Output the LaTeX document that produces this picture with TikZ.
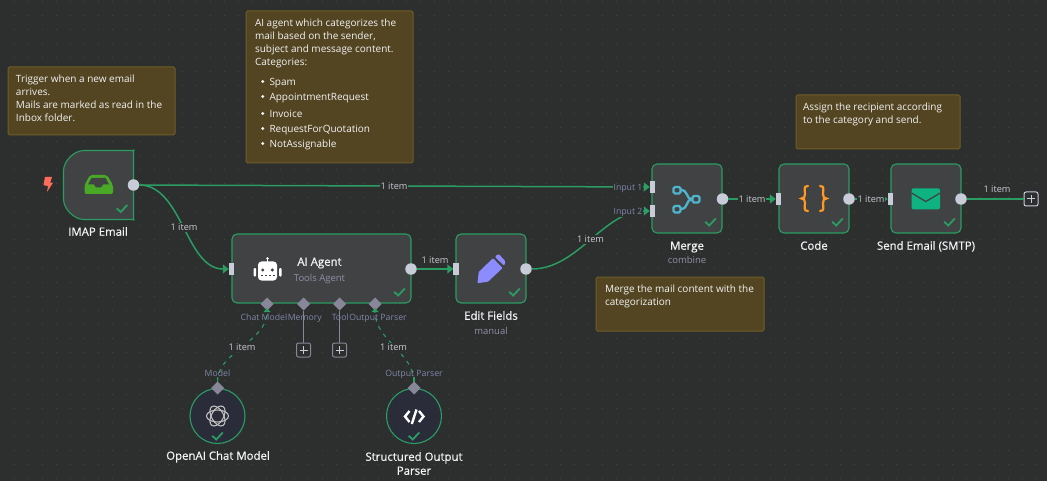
\documentclass[tikz,border=0pt]{standalone}
\usepackage{fontspec}
\setmainfont{Open Sans}
\newfontfamily\titlefont[FakeBold=0.7]{Open Sans}
\usetikzlibrary{arrows.meta,shapes.geometric,calc}
\definecolor{bgc}{HTML}{2D2E2E}
\definecolor{gridc}{HTML}{434445}
\definecolor{boxc}{HTML}{414244}
\definecolor{circc}{HTML}{2A2C3A}
\definecolor{grn}{HTML}{2A9D62}
\definecolor{portc}{HTML}{C8CBD8}
\definecolor{dia}{HTML}{878799}
\definecolor{notef}{HTML}{534521}
\definecolor{noted}{HTML}{6F5F26}
\definecolor{txt}{HTML}{F2F3F5}
\definecolor{lbl}{HTML}{C9CBD2}
\definecolor{sub}{HTML}{8F90A6}
\definecolor{plbl}{HTML}{7F87A8}
\definecolor{boltc}{HTML}{FF6D5A}
\definecolor{inboxc}{HTML}{49A825}
\definecolor{mergec}{HTML}{4EB6CC}
\definecolor{penc}{HTML}{8C8CFF}
\definecolor{bracec}{HTML}{FF9922}
\definecolor{envc}{HTML}{0FB381}
\tikzset{
 x=1pt,y=-1pt,
 every node/.style={inner sep=0pt,outer sep=0pt,font=\fontsize{10.5}{14}\selectfont},
 nodebox/.style={draw=grn,fill=boxc,line width=1.1pt,rounded corners=5pt},
 notebox/.style={draw=noted,fill=notef,line width=1pt,rounded corners=1.5pt},
 notetext/.style={text=txt,anchor=north west,align=left,font=\fontsize{10}{13.2}\selectfont},
 listtext/.style={text=txt,anchor=west,text height=7.5pt,text depth=2.5pt,font=\fontsize{10}{13}\selectfont},
 title/.style={text=txt,text height=8pt,text depth=2.5pt,font=\fontsize{11.4}{14}\titlefont},
 subt/.style={text=sub,text height=7pt,text depth=2.5pt,font=\fontsize{9.5}{12}\selectfont},
 itemlbl/.style={text=lbl,fill=bgc,inner sep=0.5pt,text height=7pt,text depth=1pt,font=\fontsize{9.2}{12}\selectfont},
 itemfree/.style={text=lbl,text height=7pt,text depth=1pt,font=\fontsize{9.2}{12}\selectfont},
 portlbl/.style={text=plbl,text height=7pt,text depth=2pt,font=\fontsize{8.7}{12}\selectfont},
 inport/.style={fill=portc,minimum width=5.5pt,minimum height=12pt,shape=rectangle},
 outport/.style={fill=portc,circle,minimum size=11.5pt},
 diaport/.style={fill=dia,diamond,minimum width=13pt,minimum height=13pt},
 plusbox/.style={draw=#1,fill=bgc,line width=1pt,rounded corners=2pt,minimum size=14pt,shape=rectangle},
 wire/.style={draw=grn,line width=1.5pt},
 wiretip/.style={wire,-{Triangle[length=6pt,width=9pt,fill=grn]}},
 dwire/.style={draw=grn,line width=1.1pt,dash pattern=on 4pt off 5pt},
 chk/.style={draw=grn,line width=1.8pt},
}
\newcommand{\okmark}[2]{\draw[chk] (#1-16.8,#2-11.2)--(#1-12.8,#2-7.5)--(#1-6.2,#2-14.5);}
\begin{document}
\begin{tikzpicture}
\useasboundingbox (0,0) rectangle (1047,481);
\fill[bgc] (0,0) rectangle (1047,481);
% dotted canvas
\foreach \i in {1,...,74}{\foreach \j in {0,...,34}{
 \fill[gridc] ({14*\i-0.5},{2+14*\j-0.5}) rectangle ++(1,1);}}
% sticky notes
\draw[notebox] (8,67) rectangle (175,135);
\node[notetext] (n1) at (16,74.5) {Trigger when a new email\\arrives.\\Mails are marked as read in the\\Inbox folder.};
\draw[notebox] (246,11) rectangle (413,163);
\node[notetext] (n2a) at (255,18.5) {AI agent which categorizes the\\mail based on the sender,\\subject and message content.\\Categories:};
\foreach \yy/\tt in {81.5/Spam,96.5/AppointmentRequest,113.5/Invoice,128.5/RequestForQuotation,143.5/NotAssignable}{
 \fill[txt] (262.7,\yy) circle (1.6);
 \node[listtext] at (269.5,\yy+1.2) {\tt};}
\draw[notebox] (796,95) rectangle (960,149);
\node[notetext] (n3) at (803,103) {Assign the recipient according\\to the category and send.};
\draw[notebox] (596,277) rectangle (764,331);
\node[notetext] (n4) at (605,285) {Merge the mail content with the\\categorization};
% boxes
\draw[nodebox] (63.5,176) .. controls (63.5,161) and (74,150.5) .. (89,150.5) -- (128.5,150.5) .. controls (131.5,150.5) and (133.5,152.5) .. (133.5,155.5) -- (133.5,214.5) .. controls (133.5,217.5) and (131.5,219.5) .. (128.5,219.5) -- (89,219.5) .. controls (74,219.5) and (63.5,209) .. (63.5,194) -- cycle;
\node[nodebox,minimum width=179pt,minimum height=69pt] (agent) at (321.5,268.5) {};
\node[nodebox,minimum width=70pt,minimum height=69pt] (edit) at (491,268.5) {};
\node[nodebox,minimum width=70pt,minimum height=69pt] (merge) at (687,198.5) {};
\node[nodebox,minimum width=70pt,minimum height=69pt] (code) at (814,198.5) {};
\node[nodebox,minimum width=70pt,minimum height=69pt] (send) at (926,198.5) {};
\node[circle,draw=grn,fill=circc,line width=1.1pt,minimum size=55pt] (oai) at (217.5,416) {};
\node[circle,draw=grn,fill=circc,line width=1.1pt,minimum size=55pt] (sop) at (414,416) {};
% ports
\node[outport] (imapout) at (133.5,185) {};
\node[inport] (agentin) at (231.5,269) {};
\node[outport] (agentout) at (411,269) {};
\node[inport] (editin) at (456,269) {};
\node[outport] (editout) at (526,269) {};
\node[inport] (mergein1) at (652.5,187) {};
\node[inport] (mergein2) at (652.5,211) {};
\node[outport] (mergeout) at (722.5,199) {};
\node[inport] (codein) at (778.5,199) {};
\node[outport] (codeout) at (849,199) {};
\node[inport] (sendin) at (890.5,199) {};
\node[outport] (sendout) at (961,199) {};
\node[plusbox=portc] (endplus) at (1031,199) {};
\node[plusbox=dia] (memplus) at (303.5,350) {};
\node[plusbox=dia] (toolplus) at (339.5,350) {};
\node[diaport] (chatport) at (267,304) {};
\node[diaport] (memport) at (303.5,304) {};
\node[diaport] (toolport) at (339.5,304) {};
\node[diaport] (parsport) at (375,304) {};
\node[diaport] (modelout) at (217.5,388) {};
\node[diaport] (parserout) at (414,388) {};
\coordinate (chattip) at (267,312);
\coordinate (parstip) at (375,312);
% connectors
\draw[wiretip] (imapout) -- (mergein1.west);
\draw[wiretip] (imapout) to[out=0,in=180,looseness=0.9] (agentin.west);
\draw[wiretip] (agentout) -- (editin.west);
\draw[wiretip] (editout) to[out=0,in=180,looseness=0.9] (mergein2.west);
\draw[wiretip] (mergeout) -- (codein.west);
\draw[wiretip] (codeout) -- (sendin.west);
\draw[wire] (sendout) -- (endplus.west);
\draw[draw=dia,line width=1.1pt] (memport) -- (memplus.north);
\draw[draw=dia,line width=1.1pt] (toolport) -- (toolplus.north);
\draw[dwire] (modelout.north) to[out=90,in=-90,looseness=0.9] (chattip);
\draw[dwire] (parserout.north) to[out=90,in=-90,looseness=0.9] (parstip);
\fill[grn] (chattip) ++(-3.5,0) -- ++(3.5,-4) -- ++(3.5,4) -- cycle;
\fill[grn] (parstip) ++(-3.5,0) -- ++(3.5,-4) -- ++(3.5,4) -- cycle;
\draw[grn,line width=1.1pt] (modelout.north) -- ++(0,-5);
\draw[grn,line width=1.1pt] (parserout.north) -- ++(0,-5);
\foreach \c in {endplus,memplus,toolplus}{
 \draw[portc,line width=1pt] ($(\c)+(-4,0)$) -- ($(\c)+(4,0)$) ($(\c)+(0,-4)$) -- ($(\c)+(0,4)$);}
% connector labels
\node[itemlbl] (l1) at (394,187) {1 item};
\node[itemlbl] (l2) at (184,227.5) {1 item};
\node[itemfree] (l3) at (435,260) {1 item};
\node[itemlbl] (l4) at (590.5,240) {1 item};
\node[itemlbl] (l5) at (752,199.5) {1 item};
\node[itemlbl] (l6) at (871,199.5) {1 item};
\node[itemfree] (l7) at (997,190) {1 item};
\node[itemlbl] (l8) at (242,347.5) {1 item};
\node[itemlbl] (l9) at (393.5,347.5) {1 item};
\node[portlbl,fill=bgc,inner sep=0.3pt] (p1) at (628,188.5) {Input 1};
\node[portlbl,fill=bgc,inner sep=0.3pt] (p2) at (628,212.5) {Input 2};
\node[portlbl,anchor=east] (p3) at (287.2,318) {Chat Model};
\node[portlbl,anchor=west] (p4) at (287.8,318) {Memory};
\node[portlbl,anchor=east] (p5) at (348.7,318) {Tool};
\node[portlbl,anchor=west] (p6) at (349.3,318) {Output Parser};
\node[portlbl] (p7) at (217.5,374) {Model};
\node[portlbl] (p8) at (414,374) {Output Parser};
% titles
\node[title] (t1) at (98,233) {IMAP Email};
\node[title] (t2) at (319.5,263) {AI Agent};
\node[subt] (t3) at (319.5,279) {Tools Agent};
\node[title] (t4) at (491,317) {Edit Fields};
\node[subt] (t5) at (491,332) {manual};
\node[title] (t6) at (687,247) {Merge};
\node[subt] (t7) at (687,261.5) {combine};
\node[title] (t8) at (814,247) {Code};
\node[title] (t9) at (926,247) {Send Email (SMTP)};
\node[title] (t10) at (218,457) {OpenAI Chat Model};
\node[title,text height=,text depth=,align=center] (t11) at (414,463.5) {Structured Output\\Parser};
% check marks
\okmark{133.5}{219.5}
\okmark{411}{303}
\okmark{526}{303}
\okmark{722}{233}
\okmark{849}{233}
\okmark{961}{233}
\okmark{229}{447}
\okmark{425.5}{447}
% bolt
\fill[boltc] (45,177)--(52,177)--(50.2,182.5)--(53,182.8)--(47,192)--(48,186)--(43.5,185.2)--cycle;
% inbox icon
\fill[inboxc,rounded corners=2pt] (90,175)--(107,175)--(113,185)--(113,194)--(84.5,194)--(84.5,185)--cycle;
\fill[boxc] (91.5,178)--(105.5,178)--(109,184.5)--(103,184.5)--(101,187.5)--(96,187.5)--(94,184.5)--(88,184.5)--cycle;
% robot icon
\fill[white,rounded corners=3.5pt] (258,261.5) rectangle (277,280.5);
\fill[white,rounded corners=1pt] (253.5,268) rectangle (256,276.5);
\fill[white,rounded corners=1pt] (279,268) rectangle (281.5,276.5);
\fill[white] (267.5,258.5) circle (1.3);
\draw[white,line width=1pt] (267.5,259) -- (267.5,262);
\fill[boxc] (262.7,270) circle (1.7) (272.3,270) circle (1.7);
\foreach \xx in {261.5,265.5,269.5,273.5}{\fill[boxc] (\xx-0.2,275) rectangle ++(2,1.1);}
% pencil icon
\fill[penc,rounded corners=0.8pt] (477.5,283.2)--(478.7,272)--(493,258.2)--(502.6,268)--(488,281.7)--cycle;
\fill[penc,rounded corners=1.2pt] (494.8,256.8)--(498.5,253.8)--(505.6,261.5)--(504.2,265.8)--cycle;
% merge icon
\begin{scope}[draw=mergec,line width=2.3pt]
\draw[rounded corners=1.5pt] (673.5,187) rectangle (680.5,193.5);
\draw[rounded corners=1.5pt] (673.5,206) rectangle (680.5,212.5);
\draw[rounded corners=1.5pt] (692.5,196) rectangle (699.5,202.5);
\draw (680.5,190) .. controls (689,190) and (685,199) .. (692.5,199.2);
\draw (680.5,209) .. controls (689,209) and (685,199.5) .. (692.5,199.2);
\end{scope}
% braces icon
\begin{scope}[draw=bracec,line width=2.2pt,line cap=round]
\draw (808,186) .. controls (803,186) and (805,190) .. (805,194) .. controls (805,197) and (804,198.5) .. (801.5,198.5) .. controls (804,198.5) and (805,200) .. (805,203) .. controls (805,207) and (803,211) .. (808,211);
\draw (820,186) .. controls (825,186) and (823,190) .. (823,194) .. controls (823,197) and (824,198.5) .. (826.5,198.5) .. controls (824,198.5) and (823,200) .. (823,203) .. controls (823,207) and (825,211) .. (820,211);
\end{scope}
% envelope icon
\fill[envc,rounded corners=2pt] (911.7,188.3) rectangle (940,209.5);
\draw[boxc,line width=1.3pt] (911.5,193) -- (925.8,201.5) -- (940.2,193);
% openai logo
\foreach \a in {0,60,120}{
 \draw[lightgray,line width=1.1pt,rotate around={\a:(217.5,416)}] (217.5,416) ellipse [x radius=11,y radius=6];}
% code icon
\begin{scope}[draw=white,line width=2.4pt]
\draw (409.5,411) -- (405,416.5) -- (409.5,422);
\draw (419,411) -- (423.5,416.5) -- (419,422);
\draw (416.5,409.5) -- (411.8,424);
\end{scope}
\end{tikzpicture}
\end{document}
